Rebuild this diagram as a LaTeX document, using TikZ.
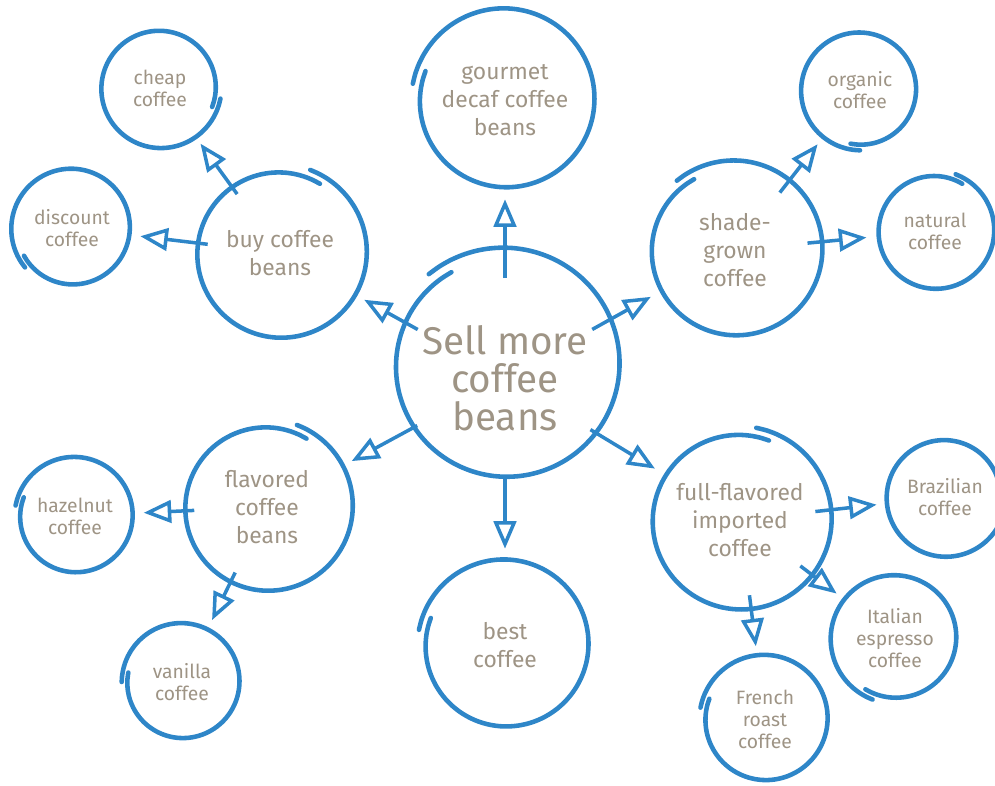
\documentclass[tikz,border=0pt]{standalone}
\usepackage{fontspec}
\setmainfont{Fira Sans}
\usetikzlibrary{arrows.meta}

\definecolor{inkblue}{HTML}{2E86C8}
\definecolor{inkgray}{HTML}{9E9485}

% hand drawn ring round a node: node, radius (px), start angle
\newcommand{\ring}[3]{%
  \draw[ringline] plot[smooth, domain=0:370, samples=60]
    ([shift={(#1)}]{#3-\x}:{#2*(0.94+0.1*\x/370)});
}

\begin{document}
\begin{tikzpicture}[x=0.02cm, y=-0.02cm,
  bubble/.style={circle, text=inkgray, align=center, inner sep=0pt},
  hub/.style={bubble, minimum size=4.48cm, font=\fontsize{22}{21.5}\selectfont},
  branch/.style={bubble, minimum size=3.4cm, font=\fontsize{13}{16}\selectfont},
  leaf/.style={bubble, minimum size=2.3cm, font=\fontsize{11}{12.5}\selectfont},
  ringline/.style={draw=inkblue, line width=2.6pt, line cap=round},
  link/.style={draw=inkblue, line width=2pt,
    -{Triangle[open, length=0.55cm, width=0.45cm]},
    shorten <=-0.25cm, shorten >=0.22cm}]

\useasboundingbox (0,0) rectangle (995,786);

% centre
\node[hub] (sell) at (505,378) {Sell more\\coffee\\beans};
\coordinate (sellring) at (505,365);

% branches
\node[branch, minimum size=3.52cm] (gourmet) at (505,100) {gourmet\\decaf coffee\\beans};
\node[branch] (buy) at (280,253) {buy coffee\\beans};
\node[branch] (shade) at (735,250) {shade-\\grown\\coffee};
\node[branch] (flavored) at (267,507) {flavored\\coffee\\beans};
\node[branch] (best) at (505,645) {best\\coffee};
\node[branch, minimum size=3.52cm] (full) at (740,520) {full-flavored\\imported\\coffee};

% leaves
\node[leaf] (cheap) at (160,88) {cheap\\coffee};
\node[leaf] (discount) at (72,228) {discount\\coffee};
\node[leaf] (organic) at (860,90) {organic\\coffee};
\node[leaf] (natural) at (935,231) {natural\\coffee};
\node[leaf] (hazelnut) at (75,516) {hazelnut\\coffee};
\node[leaf] (vanilla) at (182,682) {vanilla\\coffee};
\node[leaf] (brazil) at (945,497) {Brazilian\\coffee};
\node[leaf, minimum size=2.48cm] (italian) at (895,638) {Italian\\espresso\\coffee};
\node[leaf, minimum size=2.48cm] (french) at (765,719) {French\\roast\\coffee};

% rings
\ring{sellring}{114}{240}
\ring{gourmet}{90}{200}
\ring{buy}{85}{300}
\ring{shade}{87}{240}
\ring{flavored}{84}{300}
\ring{best}{84}{200}
\ring{full}{90}{290}
\ring{cheap}{59}{20}
\ring{discount}{59}{150}
\ring{organic}{58}{100}
\ring{natural}{58}{300}
\ring{hazelnut}{58}{200}
\ring{vanilla}{58}{190}
\ring{brazil}{59}{0}
\ring{italian}{63}{120}
\ring{french}{63}{200}

% arrows
\foreach \a/\b in {sell/gourmet, sell/buy, sell/shade, sell/flavored, sell/best, sell/full,
  buy/cheap, buy/discount, shade/organic, shade/natural,
  flavored/hazelnut, flavored/vanilla, full/brazil, full/italian, full/french}
  \draw[link] (\a) -- (\b);

\end{tikzpicture}
\end{document}
